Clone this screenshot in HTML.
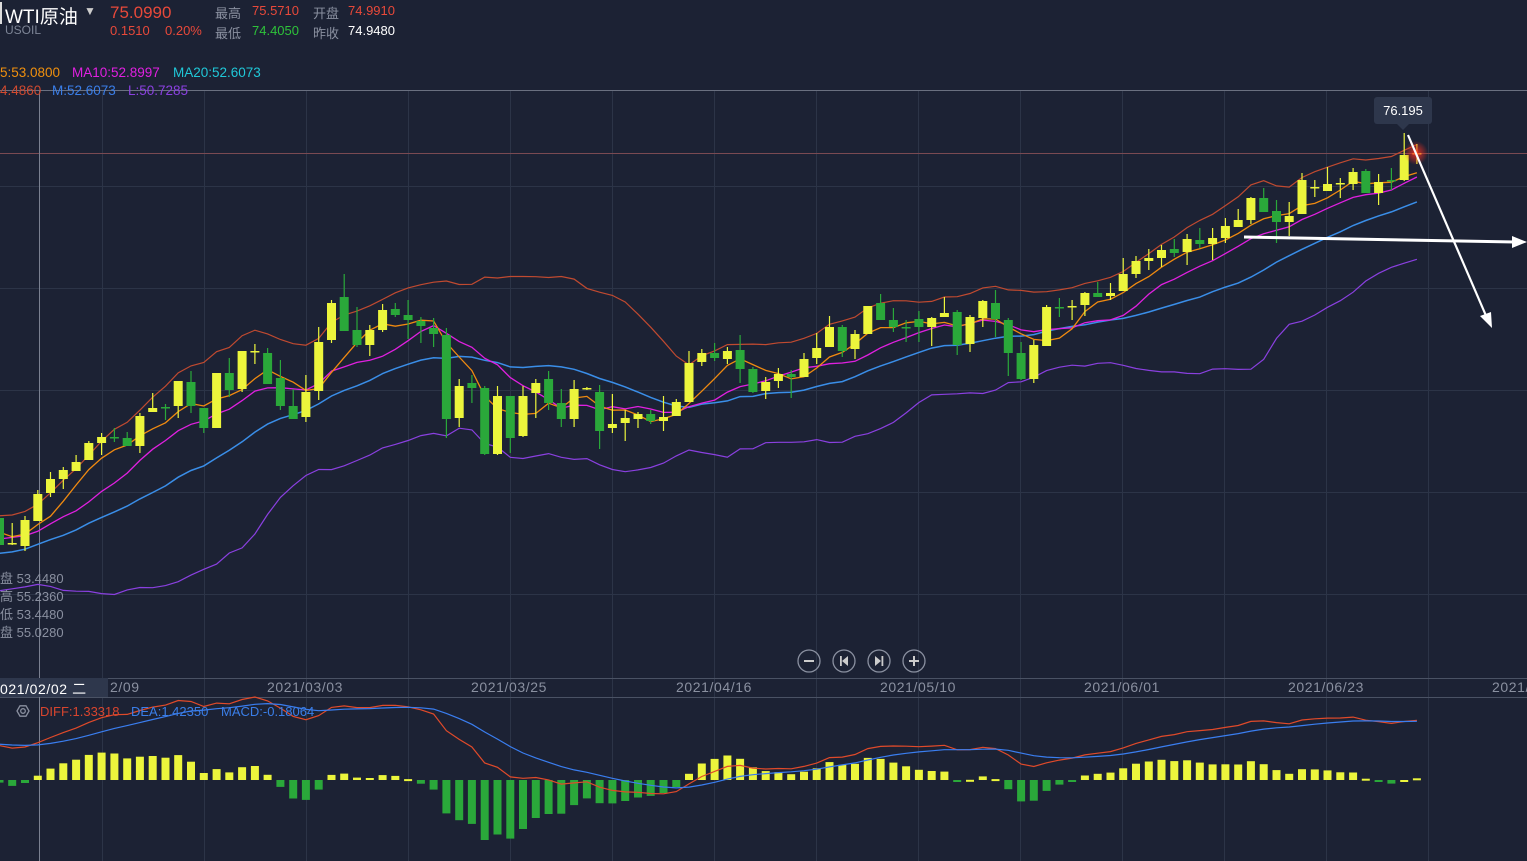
<!DOCTYPE html>
<html><head><meta charset="utf-8">
<style>
html,body{margin:0;padding:0;background:#1c2234;width:1527px;height:861px;overflow:hidden;font-family:"Liberation Sans","Noto Sans CJK SC",sans-serif}
.t{position:absolute;white-space:nowrap}
.d{position:absolute;white-space:nowrap;top:679px;font-size:14px;letter-spacing:0.6px;color:#8a90a0}
</style></head>
<body>
<svg id="s" width="1527" height="861" style="position:absolute;left:0;top:0"></svg>
<div class="t" style="left:0;top:2px;width:2px;height:22px;background:#ddd"></div>
<div class="t" style="left:5px;top:2px;font-size:19px;color:#fff">WTI原油</div>
<div class="t" style="left:84px;top:4px;font-size:12px;color:#ccc">▼</div>
<div class="t" style="left:5px;top:23px;font-size:12px;color:#7d8596">USOIL</div>
<div class="t" style="left:110px;top:3px;font-size:17px;color:#e8493a">75.0990</div>
<div class="t" style="left:110px;top:23px;font-size:13px;color:#e8493a">0.1510</div>
<div class="t" style="left:165px;top:23px;font-size:13px;color:#e8493a">0.20%</div>
<div class="t" style="left:215px;top:3px;font-size:13px;color:#8a90a0">最高</div>
<div class="t" style="left:252px;top:3px;font-size:13px;color:#e8493a">75.5710</div>
<div class="t" style="left:313px;top:3px;font-size:13px;color:#8a90a0">开盘</div>
<div class="t" style="left:348px;top:3px;font-size:13px;color:#e8493a">74.9910</div>
<div class="t" style="left:215px;top:23px;font-size:13px;color:#8a90a0">最低</div>
<div class="t" style="left:252px;top:23px;font-size:13px;color:#2ec23a">74.4050</div>
<div class="t" style="left:313px;top:23px;font-size:13px;color:#8a90a0">昨收</div>
<div class="t" style="left:348px;top:23px;font-size:13px;color:#fff">74.9480</div>
<div class="t" style="left:0;top:65px;font-size:13.5px;color:#f0900e">5:53.0800</div>
<div class="t" style="left:72px;top:65px;font-size:13.5px;color:#e020e0">MA10:52.8997</div>
<div class="t" style="left:173px;top:65px;font-size:13.5px;color:#20c8d8">MA20:52.6073</div>
<div class="t" style="left:0;top:83px;font-size:13.5px;color:#d04a30">4.4860</div>
<div class="t" style="left:52px;top:83px;font-size:13.5px;color:#3a7ee8">M:52.6073</div>
<div class="t" style="left:128px;top:83px;font-size:13.5px;color:#8a40e0">L:50.7285</div>
<div class="t" style="left:0;top:570px;font-size:13px;color:#8a90a0;line-height:18px">盘 53.4480<br>高 55.2360<br>低 53.4480<br>盘 55.0280</div>
<div class="t" style="left:0;top:678px;width:108px;height:19px;background:#2e374c"></div>
<div class="d" style="left:0;color:#fff">021/02/02 二</div>
<div class="d" style="left:110px">2/09</div>
<div class="d" style="left:267px">2021/03/03</div>
<div class="d" style="left:471px">2021/03/25</div>
<div class="d" style="left:676px">2021/04/16</div>
<div class="d" style="left:880px">2021/05/10</div>
<div class="d" style="left:1084px">2021/06/01</div>
<div class="d" style="left:1288px">2021/06/23</div>
<div class="d" style="left:1492px">2021/</div>
<div class="t" style="left:40px;top:704px;font-size:13px;color:#d8452e">DIFF:1.33318</div>
<div class="t" style="left:131px;top:704px;font-size:13px;color:#3a7ee8">DEA:1.42350</div>
<div class="t" style="left:221px;top:704px;font-size:13px;color:#3a7ee8">MACD:-0.18064</div>
<div class="t" style="left:1374px;top:97px;width:58px;height:27px;background:#2e374c;border-radius:3px"></div>
<div class="t" style="left:1374px;top:103px;width:58px;text-align:center;font-size:13px;color:#fff">76.195</div>
<script>
var C=[
['g',518,545,518,545],['y',543,543,523,545],['y',546,520,516,551],['y',521,494,490,521],['y',493,479,472,497],
['y',479,470,467,489],['y',471,462,455,471],['y',460,443,441,460],['y',443,437,433,455],['g',437,437,428,442],
['g',438,446,432,446],['y',446,416,413,453],['y',412,408,393,412],['g',407,407,404,420],['y',406,381,381,418],
['g',382,406,371,413],['g',408,428,408,433],['y',428,373,373,428],['g',373,390,358,397],['y',389,351,351,392],
['y',351,351,344,364],['g',353,384,348,384],['g',378,406,360,410],['g',406,419,389,419],['y',417,392,375,422],
['y',391,342,327,400],['y',340,303,300,343],['g',297,331,274,331],['g',330,345,307,347],['y',345,330,325,356],
['y',330,310,304,332],['g',309,315,303,317],['g',315,320,300,339],['g',321,326,317,343],['g',328,334,318,347],
['g',335,419,328,438],['y',418,386,379,427],['g',383,388,375,403],['g',388,454,386,455],['y',454,396,386,455],
['g',396,438,396,453],['y',436,396,386,437],['y',393,383,379,418],['g',379,403,371,410],['g',403,419,389,427],
['y',419,389,380,427],['y',389,388,387,390],['g',392,431,385,449],['y',428,424,394,433],['y',423,418,410,441],
['y',419,414,412,428],['g',414,421,410,424],['y',421,417,396,431],['y',416,402,399,416],['y',402,363,351,402],
['y',362,353,349,366],['g',353,358,343,361],['y',359,351,347,364],['g',350,369,335,383],['g',369,392,367,393],
['y',391,382,377,399],['y',381,374,368,388],['g',374,377,370,398],['y',377,359,353,377],['y',358,348,333,364],
['y',347,327,316,347],['g',327,351,325,357],['y',349,334,330,359],['y',334,306,306,334],['g',303,320,294,320],
['g',320,327,308,332],['g',327,327,320,342],['g',319,327,311,342],['y',327,318,317,346],['y',317,313,297,317],
['g',312,345,310,355],['y',344,317,315,352],['y',318,301,300,327],['g',303,319,290,337],['g',320,353,318,376],
['g',353,379,342,380],['y',379,345,340,383],['y',346,307,305,346],['g',307,307,298,317],['y',307,306,300,320],
['y',305,293,292,316],['g',293,297,282,297],['y',296,293,283,300],['y',291,274,258,291],['y',274,261,256,278],
['y',261,258,249,270],['y',258,250,245,267],['g',249,253,239,257],['y',252,239,234,265],['g',240,244,228,248],
['y',244,238,228,260],['y',238,226,218,243],['y',227,220,209,227],['y',220,198,197,224],['g',198,212,188,212],
['g',211,222,200,243],['y',222,216,202,236],['y',214,180,173,214],['y',187,187,180,197],['y',191,184,167,191],
['y',183,183,178,198],['y',184,172,168,190],['g',171,193,169,193],['y',193,182,174,205],['g',180,181,168,190],
['y',180,155,133,181],['y',153,153,144,164]];
var N=C.length,X=function(i){return -0.54+i*12.77};
var pre=[];for(var k=0;k<40;k++){pre.push(650-k*3.2+14*Math.sin(k*1.7));}
var cl=pre.concat(C.map(function(c){return c[2]}));var P=pre.length;
function ma(n,i){var s=0;for(var j=i-n+1;j<=i;j++)s+=cl[j];return s/n}
function sd(n,i){var m=ma(n,i),s=0;for(var j=i-n+1;j<=i;j++)s+=(cl[j]-m)*(cl[j]-m);return Math.sqrt(s/n)}
var h='';
h+='<g stroke="#2c3447" stroke-width="1">';
[186,288,390,492,594].forEach(function(y){h+='<line x1="0" x2="1527" y1="'+(y+.5)+'" y2="'+(y+.5)+'"/>'});
for(var gx=102;gx<1527;gx+=102)h+='<line y1="90" y2="861" x1="'+(gx+.5)+'" x2="'+(gx+.5)+'"/>';
h+='</g>';
h+='<line x1="0" x2="1527" y1="90.5" y2="90.5" stroke="#6a7080"/>';
h+='<line x1="0" x2="1527" y1="678.5" y2="678.5" stroke="#4a5264"/><line x1="0" x2="1527" y1="697.5" y2="697.5" stroke="#4a5264"/>';
h+='<line x1="0" x2="1527" y1="153.5" y2="153.5" stroke="#7a4a52"/>';
h+='<line x1="39.5" x2="39.5" y1="90" y2="861" stroke="#7a8090"/>';
function poly(f,col,w){var p=[];for(var i=0;i<N;i++)p.push(X(i).toFixed(1)+','+f(P+i).toFixed(1));return '<polyline fill="none" stroke="'+col+'" stroke-width="'+(w||1.2)+'" points="'+p.join(' ')+'"/>'}
h+=poly(function(i){return ma(20,i)-2*sd(20,i)},'#c04a30');
h+=poly(function(i){return ma(20,i)+2*sd(20,i)},'#8a40e0');
h+=poly(function(i){return ma(20,i)},'#3a8ee8',1.5);
h+=poly(function(i){return ma(10,i)},'#e020e0',1.3);
h+=poly(function(i){return ma(5,i)},'#f08a10',1.3);
for(var i=0;i<N;i++){var c=C[i],x=X(i),col=c[0]=='y'?'#ecf53c':'#2aa83a';var t=Math.min(c[1],c[2]),b=Math.max(c[1],c[2]);
h+='<line x1="'+x.toFixed(1)+'" x2="'+x.toFixed(1)+'" y1="'+c[3]+'" y2="'+c[4]+'" stroke="'+col+'" stroke-width="1.2"/>';
h+='<rect x="'+(x-4.5).toFixed(1)+'" y="'+t+'" width="9" height="'+Math.max(1.5,b-t)+'" fill="'+col+'"/>';}
h+='<defs><radialGradient id="gl"><stop offset="0" stop-color="#ff3020" stop-opacity=".9"/><stop offset="1" stop-color="#ff3020" stop-opacity="0"/></radialGradient></defs>';
h+='<circle cx="1416" cy="153" r="12" fill="url(#gl)"/>';
h+='<path d="M1397 124 L1403 130 L1409 124Z" fill="#2e374c"/>';
h+='<g stroke="#fff" stroke-width="3" fill="#fff"><line x1="1244" y1="237" x2="1515" y2="242"/><path d="M1527 242 L1512 236 L1512 248Z" stroke="none"/>';
h+='<line x1="1408" y1="135" x2="1487" y2="318" stroke-width="2.2"/><path d="M1492 328 L1480 316 L1491 312Z" stroke="none"/></g>';
var e12=cl[0],e26=cl[0],dea=0,D=[],E=[],M=[];
for(var j=0;j<cl.length;j++){e12=e12+(cl[j]-e12)*2/13;e26=e26+(cl[j]-e26)*2/27;var df=-(e12-e26);dea=dea+(df-dea)*0.2;if(j>=P){D.push(df);E.push(dea);M.push(df-dea)}}
var mxD=Math.max.apply(null,D.concat(E)),mnM=Math.min.apply(null,M);var kd=83/mxD,km=60/(-mnM);
for(i=0;i<N;i++){var v=M[i]*km,x=X(i);h+='<rect x="'+(x-4).toFixed(1)+'" y="'+(v>0?780-v:780).toFixed(1)+'" width="8" height="'+Math.max(2,Math.abs(v)).toFixed(1)+'" fill="'+(v>0?'#ecf53c':'#2aa83a')+'"/>'}
function pl(A,col){var p=[];for(var i=0;i<N;i++)p.push(X(i).toFixed(1)+','+(780-A[i]*kd).toFixed(1));return '<polyline fill="none" stroke="'+col+'" stroke-width="1.2" points="'+p.join(' ')+'"/>'}
h+=pl(D,'#e04a2a')+pl(E,'#3a7ef0');
h+='<path d="M17 711 L20 705.8 L26 705.8 L29 711 L26 716.2 L20 716.2Z" fill="none" stroke="#8a90a0" stroke-width="1.3"/><circle cx="23" cy="711" r="2.3" fill="none" stroke="#8a90a0" stroke-width="1.3"/>';
[809,844,879,914].forEach(function(cx,k){h+='<circle cx="'+cx+'" cy="661" r="11" fill="none" stroke="#8a90a0" stroke-width="1.3"/>';
if(k==0)h+='<line x1="'+(cx-5)+'" x2="'+(cx+5)+'" y1="661" y2="661" stroke="#ccc" stroke-width="2"/>';
if(k==3)h+='<line x1="'+(cx-5)+'" x2="'+(cx+5)+'" y1="661" y2="661" stroke="#ccc" stroke-width="2"/><line y1="656" y2="666" x1="'+cx+'" x2="'+cx+'" stroke="#ccc" stroke-width="2"/>';
if(k==1)h+='<rect x="'+(cx-4)+'" y="656" width="1.8" height="10" fill="#ccc"/><path d="M'+(cx+4)+' 656 L'+(cx-2)+' 661 L'+(cx+4)+' 666Z" fill="#ccc"/>';
if(k==2)h+='<rect x="'+(cx+2.5)+'" y="656" width="1.8" height="10" fill="#ccc"/><path d="M'+(cx-4)+' 656 L'+(cx+2)+' 661 L'+(cx-4)+' 666Z" fill="#ccc"/>';});
document.getElementById('s').innerHTML=h;
</script>
</body></html>
